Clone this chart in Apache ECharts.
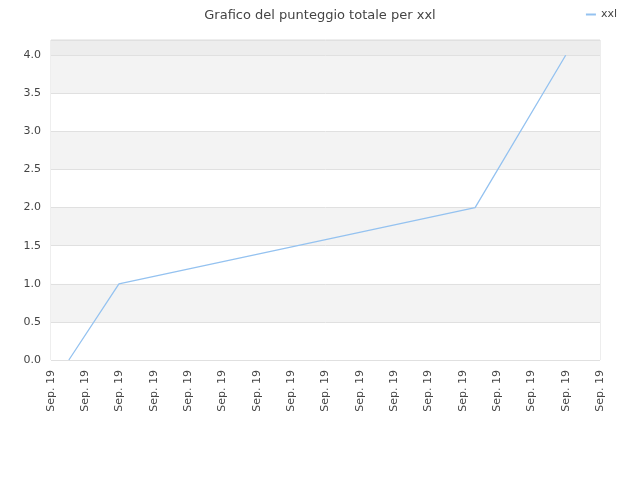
<!DOCTYPE html>
<html>
<head>
<meta charset="utf-8">
<script src="https://cdn.jsdelivr.net/npm/echarts@6/dist/echarts.min.js"></script>
<style>
  html, body { margin: 0; padding: 0; background: #fff; }
  #chart { width: 640px; height: 480px; }
</style>
</head>
<body>
<div id="chart"></div>
<script>
// dati
const seriesName = 'xxl';
const xPositions = [0.52, 1.98, 12.36, 15.0];   // posizione lungo l'asse (in passi di tick)
const scores = [0, 1, 2, 4];
const xTickLabel = 'Sep. 19';

const chart = echarts.init(document.getElementById('chart'));

// bande alternate + fascia superiore più scura
const bandColors = ['#ffffff', '#f3f3f3', '#ffffff', '#f3f3f3', '#ffffff', '#f3f3f3', '#ffffff', '#f3f3f3', '#ededed'];

chart.setOption({
  animation: false,
  title: {
    text: 'Grafico del punteggio totale per xxl',
    left: 'center',
    top: 4,
    textStyle: { fontFamily: 'DejaVu Sans', fontSize: 13, fontWeight: 'normal', color: '#444' }
  },
  legend: {
    right: 18,
    top: 4,
    icon: 'rect',
    itemWidth: 10,
    itemHeight: 2,
    itemGap: 4,
    textStyle: { fontFamily: 'DejaVu Sans', fontSize: 11, color: '#444' },
    data: [seriesName]
  },
  grid: {
    left: 51, right: 40, top: 40, bottom: 120,
    show: true,
    borderColor: '#dcdcdc',
    borderWidth: 1,
    backgroundColor: 'transparent'
  },
  xAxis: {
    type: 'value',
    min: 0,
    max: 16,
    interval: 1,
    axisLine: { show: false },
    axisTick: { show: false },
    splitLine: { show: false },
    axisLabel: {
      rotate: 90,
      margin: 10,
      color: '#444',
      fontFamily: 'DejaVu Sans',
      fontSize: 11,
      showMinLabel: true,
      showMaxLabel: true,
      formatter: () => xTickLabel
    }
  },
  yAxis: {
    type: 'value',
    min: 0,
    max: 4.2,
    interval: 0.5,
    axisLine: { show: false },
    axisTick: { show: false },
    splitLine: { lineStyle: { color: '#e0e0e0', width: 1 } },
    splitArea: { show: true, areaStyle: { color: bandColors } },
    axisLabel: {
      color: '#444',
      fontFamily: 'DejaVu Sans',
      fontSize: 11,
      margin: 10,
      showMaxLabel: false,
      formatter: v => v.toFixed(1)
    }
  },
  series: [{
    name: seriesName,
    type: 'line',
    data: xPositions.map((x, i) => [x, scores[i]]),
    symbol: 'none',
    lineStyle: { color: '#94c2f0', width: 1.3 },
    itemStyle: { color: '#94c2f0' }
  }]
});
</script>
</body>
</html>
